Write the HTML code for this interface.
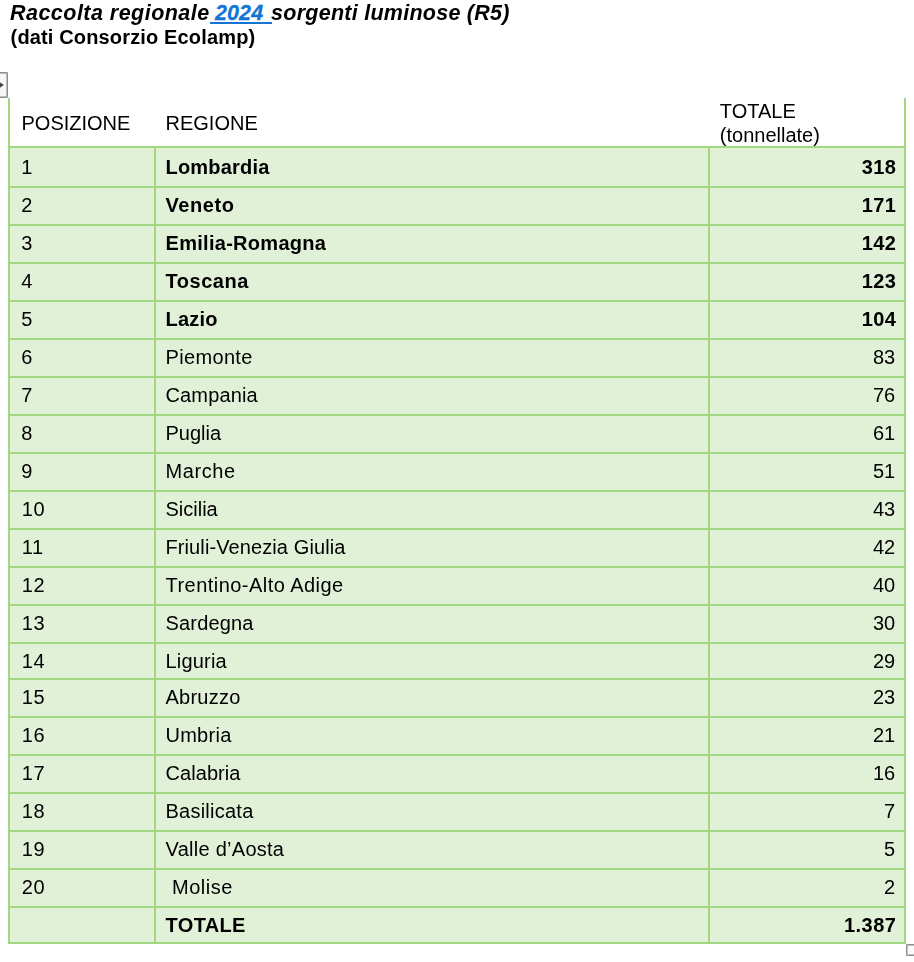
<!DOCTYPE html>
<html><head><meta charset="utf-8"><title>Raccolta regionale 2024</title>
<style>
html,body{margin:0;padding:0;background:#fff;}
body{width:914px;height:962px;position:relative;overflow:hidden;font-family:"Liberation Sans",sans-serif;color:#000;}
.a{position:absolute;}
.g{filter:grayscale(1);}
.gi{display:inline-block;filter:grayscale(1);}
.t{position:absolute;white-space:pre;filter:grayscale(1);font-size:20px;line-height:24px;}
.b{font-weight:bold;}
.r{text-align:right;}
.hl{position:absolute;left:8px;width:898px;height:2px;background:#a3d883;}
.vl{position:absolute;width:2px;background:#a3d883;}
</style></head><body>
<div class="a" style="left:10px;top:0.5px;font-size:21.5px;line-height:24px;font-weight:bold;font-style:italic;letter-spacing:0.35px;white-space:pre;"><span class="gi" style="letter-spacing:0.47px">Raccolta regionale</span><span style="color:#1475d5;position:relative;left:-1px;-webkit-text-stroke:0.3px #1475d5;margin-right:0.5px;"> <span style="letter-spacing:0.1px">2024</span> </span><span class="gi" style="letter-spacing:0.26px">sorgenti luminose (R5)</span></div>
<div class="a" style="left:209.8px;top:22px;width:62px;height:1.8px;background:#1475d5;"></div>
<div class="a g" style="left:10.6px;top:26.8px;font-size:20px;line-height:20px;font-weight:bold;letter-spacing:0.15px;white-space:pre;">(dati Consorzio Ecolamp)</div>
<div class="a" style="left:-8px;top:72px;width:14px;height:24px;border:1px solid #8c8c8c;box-shadow:inset 0 0 0 1px #bdbdbd;background:#f6f6f6;border-radius:1px;"></div>
<svg class="a" style="left:0;top:80px" width="6" height="10"><path d="M0 2.6L3.6 5L0 7.4Z" fill="#3a3a3a" stroke="#666" stroke-width="0.5" stroke-linejoin="round"/></svg>
<div class="a" style="left:10px;top:148px;width:894px;height:794px;background:#e1f1d7;"></div>
<div class="vl" style="left:8px;top:98px;height:846px;"></div>
<div class="vl" style="left:904px;top:98px;height:846px;"></div>
<div class="vl" style="left:154px;top:146px;height:798px;"></div>
<div class="vl" style="left:708px;top:146px;height:798px;"></div>
<div class="hl" style="top:146px;"></div>
<div class="hl" style="top:186px;"></div>
<div class="hl" style="top:224px;"></div>
<div class="hl" style="top:262px;"></div>
<div class="hl" style="top:300px;"></div>
<div class="hl" style="top:338px;"></div>
<div class="hl" style="top:376px;"></div>
<div class="hl" style="top:414px;"></div>
<div class="hl" style="top:452px;"></div>
<div class="hl" style="top:490px;"></div>
<div class="hl" style="top:528px;"></div>
<div class="hl" style="top:566px;"></div>
<div class="hl" style="top:604px;"></div>
<div class="hl" style="top:642px;"></div>
<div class="hl" style="top:678px;"></div>
<div class="hl" style="top:716px;"></div>
<div class="hl" style="top:754px;"></div>
<div class="hl" style="top:792px;"></div>
<div class="hl" style="top:830px;"></div>
<div class="hl" style="top:868px;"></div>
<div class="hl" style="top:906px;"></div>
<div class="hl" style="top:942px;"></div>
<div class="t" style="left:21.5px;top:111.1px;">POSIZIONE</div>
<div class="t" style="left:165.5px;top:111.1px;">REGIONE</div>
<div class="t" style="left:719.8px;top:98.8px;">TOTALE</div>
<div class="t" style="left:719.8px;top:122.7px;">(tonnellate)</div>
<div class="t" style="left:21.3px;top:155.1px;letter-spacing:0.0px;">1</div>
<div class="t b" style="left:165.5px;top:155.1px;letter-spacing:0.19px;">Lombardia</div>
<div class="t b r" style="right:17.5px;top:155.1px;letter-spacing:0.5px;">318</div>
<div class="t" style="left:21.3px;top:193.1px;letter-spacing:0.0px;">2</div>
<div class="t b" style="left:165.5px;top:193.1px;letter-spacing:0.56px;">Veneto</div>
<div class="t b r" style="right:17.5px;top:193.1px;letter-spacing:0.5px;">171</div>
<div class="t" style="left:21.3px;top:231.1px;letter-spacing:0.0px;">3</div>
<div class="t b" style="left:165.5px;top:231.1px;letter-spacing:0.29px;">Emilia-Romagna</div>
<div class="t b r" style="right:17.5px;top:231.1px;letter-spacing:0.5px;">142</div>
<div class="t" style="left:21.3px;top:269.1px;letter-spacing:0.0px;">4</div>
<div class="t b" style="left:165.5px;top:269.1px;letter-spacing:0.52px;">Toscana</div>
<div class="t b r" style="right:17.5px;top:269.1px;letter-spacing:0.5px;">123</div>
<div class="t" style="left:21.3px;top:307.1px;letter-spacing:0.0px;">5</div>
<div class="t b" style="left:165.5px;top:307.1px;letter-spacing:0.20px;">Lazio</div>
<div class="t b r" style="right:17.5px;top:307.1px;letter-spacing:0.5px;">104</div>
<div class="t" style="left:21.3px;top:345.1px;letter-spacing:0.0px;">6</div>
<div class="t" style="left:165.5px;top:345.1px;letter-spacing:0.34px;">Piemonte</div>
<div class="t r" style="right:18.8px;top:345.1px;letter-spacing:0.0px;">83</div>
<div class="t" style="left:21.3px;top:383.1px;letter-spacing:0.0px;">7</div>
<div class="t" style="left:165.5px;top:383.1px;letter-spacing:0.14px;">Campania</div>
<div class="t r" style="right:18.8px;top:383.1px;letter-spacing:0.0px;">76</div>
<div class="t" style="left:21.3px;top:421.1px;letter-spacing:0.0px;">8</div>
<div class="t" style="left:165.5px;top:421.1px;letter-spacing:0.00px;">Puglia</div>
<div class="t r" style="right:18.8px;top:421.1px;letter-spacing:0.0px;">61</div>
<div class="t" style="left:21.3px;top:459.1px;letter-spacing:0.0px;">9</div>
<div class="t" style="left:165.5px;top:459.1px;letter-spacing:0.58px;">Marche</div>
<div class="t r" style="right:18.8px;top:459.1px;letter-spacing:0.0px;">51</div>
<div class="t" style="left:21.8px;top:497.1px;letter-spacing:0.6px;">10</div>
<div class="t" style="left:165.5px;top:497.1px;letter-spacing:0.00px;">Sicilia</div>
<div class="t r" style="right:18.8px;top:497.1px;letter-spacing:0.0px;">43</div>
<div class="t" style="left:21.8px;top:535.1px;letter-spacing:0.6px;">11</div>
<div class="t" style="left:165.5px;top:535.1px;letter-spacing:0.10px;">Friuli-Venezia Giulia</div>
<div class="t r" style="right:18.8px;top:535.1px;letter-spacing:0.0px;">42</div>
<div class="t" style="left:21.8px;top:573.1px;letter-spacing:0.6px;">12</div>
<div class="t" style="left:165.5px;top:573.1px;letter-spacing:0.46px;">Trentino-Alto Adige</div>
<div class="t r" style="right:18.8px;top:573.1px;letter-spacing:0.0px;">40</div>
<div class="t" style="left:21.8px;top:611.1px;letter-spacing:0.6px;">13</div>
<div class="t" style="left:165.5px;top:611.1px;letter-spacing:0.17px;">Sardegna</div>
<div class="t r" style="right:18.8px;top:611.1px;letter-spacing:0.0px;">30</div>
<div class="t" style="left:21.8px;top:649.1px;letter-spacing:0.6px;">14</div>
<div class="t" style="left:165.5px;top:649.1px;letter-spacing:0.20px;">Liguria</div>
<div class="t r" style="right:18.8px;top:649.1px;letter-spacing:0.0px;">29</div>
<div class="t" style="left:21.8px;top:685.1px;letter-spacing:0.6px;">15</div>
<div class="t" style="left:165.5px;top:685.1px;letter-spacing:0.23px;">Abruzzo</div>
<div class="t r" style="right:18.8px;top:685.1px;letter-spacing:0.0px;">23</div>
<div class="t" style="left:21.8px;top:723.1px;letter-spacing:0.6px;">16</div>
<div class="t" style="left:165.5px;top:723.1px;letter-spacing:0.26px;">Umbria</div>
<div class="t r" style="right:18.8px;top:723.1px;letter-spacing:0.0px;">21</div>
<div class="t" style="left:21.8px;top:761.1px;letter-spacing:0.6px;">17</div>
<div class="t" style="left:165.5px;top:761.1px;letter-spacing:0.07px;">Calabria</div>
<div class="t r" style="right:18.8px;top:761.1px;letter-spacing:0.0px;">16</div>
<div class="t" style="left:21.8px;top:799.1px;letter-spacing:0.6px;">18</div>
<div class="t" style="left:165.5px;top:799.1px;letter-spacing:0.24px;">Basilicata</div>
<div class="t r" style="right:18.8px;top:799.1px;letter-spacing:0.0px;">7</div>
<div class="t" style="left:21.8px;top:837.1px;letter-spacing:0.6px;">19</div>
<div class="t" style="left:165.5px;top:837.1px;letter-spacing:0.27px;">Valle d’Aosta</div>
<div class="t r" style="right:18.8px;top:837.1px;letter-spacing:0.0px;">5</div>
<div class="t" style="left:21.8px;top:875.1px;letter-spacing:0.6px;">20</div>
<div class="t" style="left:166.0px;top:875.1px;letter-spacing:0.50px;"> Molise</div>
<div class="t r" style="right:18.8px;top:875.1px;letter-spacing:0.0px;">2</div>
<div class="t b" style="left:165.5px;top:913.1px;letter-spacing:0.36px;">TOTALE</div>
<div class="t b r" style="right:17.5px;top:913.1px;letter-spacing:0.5px;">1.387</div>
<div class="a" style="left:906px;top:944px;width:14px;height:10px;border:1px solid #8e8e8e;box-shadow:inset 0 0 0 1px #c2c2c2;background:#fafafa;border-radius:1px;"></div>
</body></html>
